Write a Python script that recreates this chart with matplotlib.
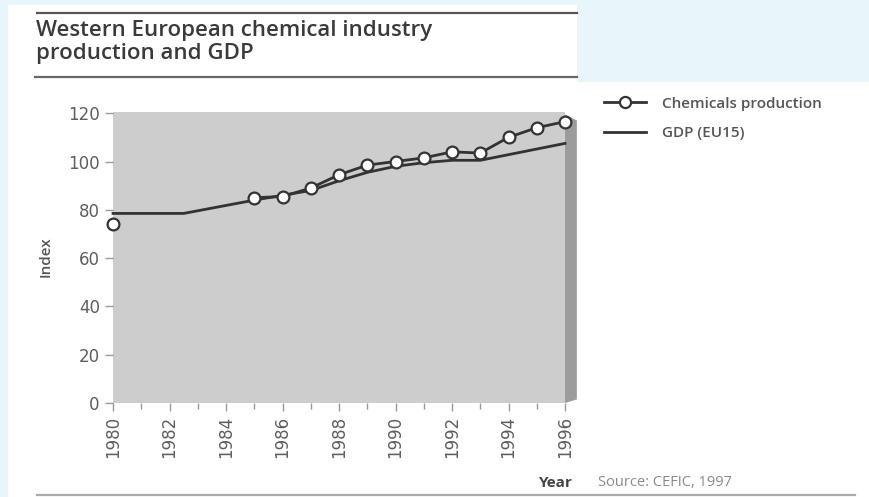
import numpy as np
import matplotlib
matplotlib.use("Agg")
import matplotlib.pyplot as plt
from matplotlib.patches import Polygon
from matplotlib.lines import Line2D

# data (no chemicals values shown for 1981-84)
chem_years = [1980, 1981, 1982, 1983, 1984, 1985, 1986, 1987, 1988, 1989, 1990, 1991, 1992, 1993, 1994, 1995, 1996]
chem_index = [74, np.nan, np.nan, np.nan, np.nan, 85, 85.5, 89, 94.5, 98.5, 100, 101.5, 104, 103.5, 110, 114, 116.5]
gdp_years = [1980, 1982.5, 1985, 1986, 1987, 1988, 1989, 1990, 1991, 1992, 1993, 1996]
gdp_index = [78.5, 78.5, 84, 86, 88, 92, 95.5, 98, 99.5, 100.5, 100.5, 107.5]
xticks = list(range(1980, 1997, 2))
yticks = [0, 20, 40, 60, 80, 100, 120]

W, H = 870, 497
fig = plt.figure(figsize=(W / 100, H / 100), dpi=100)
fig.patch.set_facecolor("#e8f5fb")

def fx(px):
    return px / W

def fy(py):
    return 1 - py / H

# white page
page = Polygon([(fx(8), fy(5)), (fx(577), fy(5)), (fx(577), fy(82)), (fx(870), fy(82)),
                (fx(870), fy(497)), (fx(8), fy(497))],
               closed=True, transform=fig.transFigure, facecolor="white", edgecolor="none",
               zorder=-10)
fig.add_artist(page)

# rules
fig.add_artist(Line2D([fx(37), fx(577)], [fy(13), fy(13)], transform=fig.transFigure, color="#555555", lw=1.6))
fig.add_artist(Line2D([fx(35), fx(577)], [fy(77), fy(77)], transform=fig.transFigure, color="#666666", lw=1.6))
fig.add_artist(Line2D([fx(37), fx(855)], [fy(495), fy(495)], transform=fig.transFigure, color="#aaaaaa", lw=1.6))

fig.text(fx(36), fy(20), "Western European chemical industry\nproduction and GDP",
         ha="left", va="top", fontsize=16, family="Open Sans", weight="semibold",
         color="#3a3a3a", linespacing=1.1)

ax = fig.add_axes([fx(113), fy(403), fx(565) - fx(113), fy(112) - fy(403)])
ax.set_facecolor("#cdcdcd")
ax.set_xlim(1980, 1996)
ax.set_ylim(0, 120.5)
for s in ax.spines.values():
    s.set_visible(False)

# 3D side of the box
side = Polygon([(1996, 0), (1996.42, 1.5), (1996.42, 117), (1996, 119.5)], closed=True,
               facecolor="#9c9c9c", edgecolor="none", clip_on=False)
ax.add_patch(side)

ax.plot(gdp_years, gdp_index, color="#333333", lw=2, label="GDP (EU15)", clip_on=False, zorder=3)
ax.plot(chem_years, chem_index, color="#333333", lw=2, marker="o", markersize=8.5,
        markerfacecolor="white", markeredgecolor="#333333", markeredgewidth=1.6,
        label="Chemicals production", clip_on=False, zorder=4)

ax.set_xticks(xticks)
ax.set_xticks(range(1980, 1997), minor=True)
ax.set_xticklabels([str(t) for t in xticks], rotation=90, fontsize=12, family="DejaVu Sans", color="#5e5e5e")
ax.set_yticks(yticks)
ax.set_yticklabels([str(t) for t in yticks], fontsize=12, family="DejaVu Sans", color="#5e5e5e")
ax.tick_params(axis="both", which="both", color="#999999", length=6, width=1)
ax.tick_params(axis="x", which="minor", length=4)

fig.text(fx(46), fy(257), "Index", rotation=90, ha="center", va="center",
         fontsize=11, family="Open Sans", weight="semibold", color="#555555")
fig.text(fx(573), fy(483), "Year", ha="right", va="center",
         fontsize=11, family="Open Sans", weight="bold", color="#444444")
fig.text(fx(598), fy(483), "Source: CEFIC, 1997", ha="left", va="center",
         fontsize=10.5, family="Open Sans", color="#8a8a8a")

handles, labels = ax.get_legend_handles_labels()
leg = ax.legend(handles[::-1], labels[::-1], loc="upper left", bbox_to_anchor=(fx(596), fy(89)),
                bbox_transform=fig.transFigure, frameon=False, handlelength=2.8,
                labelspacing=1.0, borderpad=0, handletextpad=1.0,
                prop={"family": "Open Sans", "weight": "semibold", "size": 11})
for t in leg.get_texts():
    t.set_color("#555555")
for h in leg.legend_handles:
    h.set_markersize(8)

fig.savefig("out.png", dpi=100, facecolor=fig.get_facecolor())
